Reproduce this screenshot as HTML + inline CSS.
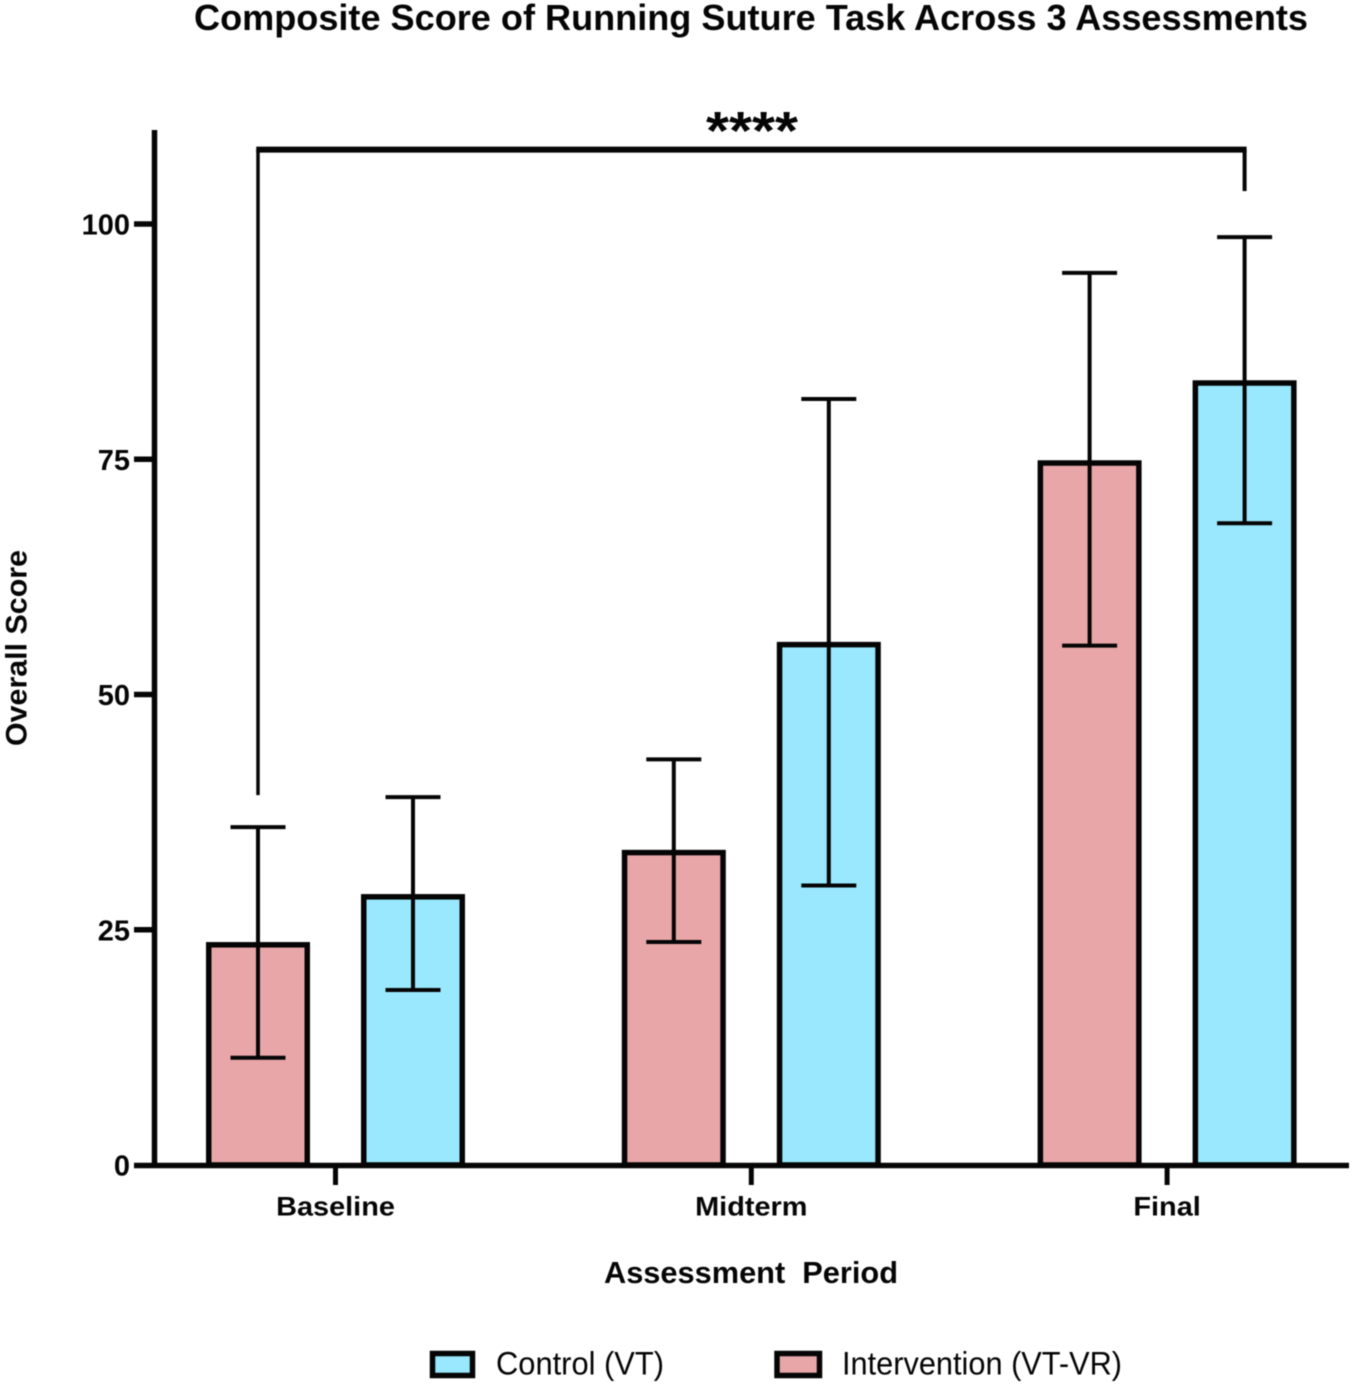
<!DOCTYPE html>
<html lang="en">
<head>
<meta charset="utf-8">
<title>Composite Score of Running Suture Task</title>
<style>
html,body{margin:0;padding:0;background:#fff;}
svg{display:block;filter:blur(0.4px);}
text{font-family:"Liberation Sans",Arial,sans-serif;fill:#050505;}
</style>
</head>
<body>
<svg id="chart" xmlns="http://www.w3.org/2000/svg" width="1352" height="1386" viewBox="0 0 1352 1386">
<text x="751" y="30" text-anchor="middle" font-size="36" font-weight="700" textLength="1114" lengthAdjust="spacingAndGlyphs">Composite Score of Running Suture Task Across 3 Assessments</text>
<text x="751" y="1283" text-anchor="middle" font-size="31" font-weight="700" textLength="294" lengthAdjust="spacingAndGlyphs" xml:space="preserve">Assessment  Period</text>
<text transform="translate(26.5,648) rotate(-90)" text-anchor="middle" font-size="30" font-weight="700" textLength="196" lengthAdjust="spacingAndGlyphs">Overall Score</text>
<rect x="432.5" y="1353.5" width="40" height="22" fill="#99e8fd" stroke="#050505" stroke-width="5.5"/>
<text x="496" y="1374.5" font-size="32" textLength="168" lengthAdjust="spacingAndGlyphs">Control (VT)</text>
<rect x="777" y="1353.5" width="42.5" height="22" fill="#e8a6a9" stroke="#050505" stroke-width="5.5"/>
<text x="842" y="1374.5" font-size="32" textLength="280" lengthAdjust="spacingAndGlyphs">Intervention (VT-VR)</text>
<g id="plot"></g>
</svg>
<script>
const categories = ['Baseline', 'Midterm', 'Final'];
const yTicks = [0, 25, 50, 75, 100];
const interventionMeans = [23.4, 33.2, 74.6];
const interventionHigh = [35.9, 43.1, 94.8];
const interventionLow = [11.4, 23.7, 55.2];
const controlMeans = [28.5, 55.3, 83.1];
const controlHigh = [39.1, 81.4, 98.6];
const controlLow = [18.6, 29.7, 68.2];
const bracketTop = 107.9;
const bracketLeftEnd = 39.3;
const bracketRightEnd = 103.5;
const significance = '****';

const NS = 'http://www.w3.org/2000/svg';
const plot = document.getElementById('plot');
const INK = '#050505';
const yScale = function (v) { return 1165 - v * 9.41; };
const groupX = function (i) { return 335.5 + i * 415.8; };
const BAR_OFFSET = 77.5;
const BAR_W = 98.5;

function make(tag, attrs, parent) {
  const el = document.createElementNS(NS, tag);
  Object.keys(attrs).forEach(function (k) { el.setAttribute(k, attrs[k]); });
  (parent || plot).appendChild(el);
  return el;
}
function line(x1, y1, x2, y2, w, name) {
  const el = make('line', { x1: x1, y1: y1, x2: x2, y2: y2, stroke: INK, 'stroke-width': w });
  
  
  return el;
}
function drawBar(cx, value, fill, name) {
  const top = yScale(value);
  const el = make('rect', { x: cx - BAR_W / 2, y: top, width: BAR_W, height: yScale(0) - top, fill: fill, stroke: INK, 'stroke-width': 5.5 });
  
  
}
function drawError(cx, hi, lo, name) {
  const g = make('g', {});
  
  
  const parts = [
    [cx, yScale(hi), cx, yScale(lo)],
    [cx - 27.5, yScale(hi), cx + 27.5, yScale(hi)],
    [cx - 27.5, yScale(lo), cx + 27.5, yScale(lo)]
  ];
  parts.forEach(function (p) {
    make('line', { x1: p[0], y1: p[1], x2: p[2], y2: p[3], stroke: INK, 'stroke-width': 4 }, g);
  });
}

categories.forEach(function (cat, i) {
  const cx = groupX(i);
  const key = cat.toLowerCase();
  drawBar(cx - BAR_OFFSET, interventionMeans[i], '#e8a6a9', 'bar-intervention-' + key);
  drawBar(cx + BAR_OFFSET, controlMeans[i], '#99e8fd', 'bar-control-' + key);
  drawError(cx - BAR_OFFSET, interventionHigh[i], interventionLow[i], 'error-bar-intervention-' + key);
  drawError(cx + BAR_OFFSET, controlHigh[i], controlLow[i], 'error-bar-control-' + key);
  line(cx, yScale(0), cx, yScale(0) + 20, 5, 'x-tick-' + key);
  const t = make('text', { x: cx, y: 1215.5, 'text-anchor': 'middle', 'font-size': 27, 'font-weight': 700, lengthAdjust: 'spacingAndGlyphs' });
  
  
  t.textContent = cat;
  t.setAttribute('textLength', t.getComputedTextLength() * 1.07);
});

line(154.5, 130, 154.5, 1168, 5.5, 'y-axis-line');
line(134, yScale(0) + 0.5, 1349, yScale(0) + 0.5, 5.5, 'x-axis-line');

yTicks.forEach(function (v) {
  if (v !== 0) {
    line(134, yScale(v), 155, yScale(v), 5.5, 'y-tick-' + v);
  }
  const t = make('text', { x: 130, y: yScale(v) + 10.5, 'text-anchor': 'end', 'font-size': 29, 'font-weight': 700 });
  
  
  t.textContent = String(v);
});

const bracketLeft = groupX(0) - BAR_OFFSET;
const bracketRight = groupX(2) + BAR_OFFSET;
const bracket = make('g', {});


make('line', { x1: bracketLeft, y1: yScale(bracketLeftEnd), x2: bracketLeft, y2: yScale(bracketTop), stroke: INK, 'stroke-width': 3.5 }, bracket);
make('line', { x1: bracketLeft - 1.75, y1: yScale(bracketTop), x2: bracketRight + 2, y2: yScale(bracketTop), stroke: INK, 'stroke-width': 6 }, bracket);
make('line', { x1: bracketRight, y1: yScale(bracketTop), x2: bracketRight, y2: yScale(bracketRightEnd), stroke: INK, 'stroke-width': 4 }, bracket);

const stars = make('text', { x: 752, y: 149, 'text-anchor': 'middle', 'font-size': 54, 'font-weight': 700, textLength: 92, lengthAdjust: 'spacingAndGlyphs' });


stars.textContent = significance;
</script>
</body>
</html>
